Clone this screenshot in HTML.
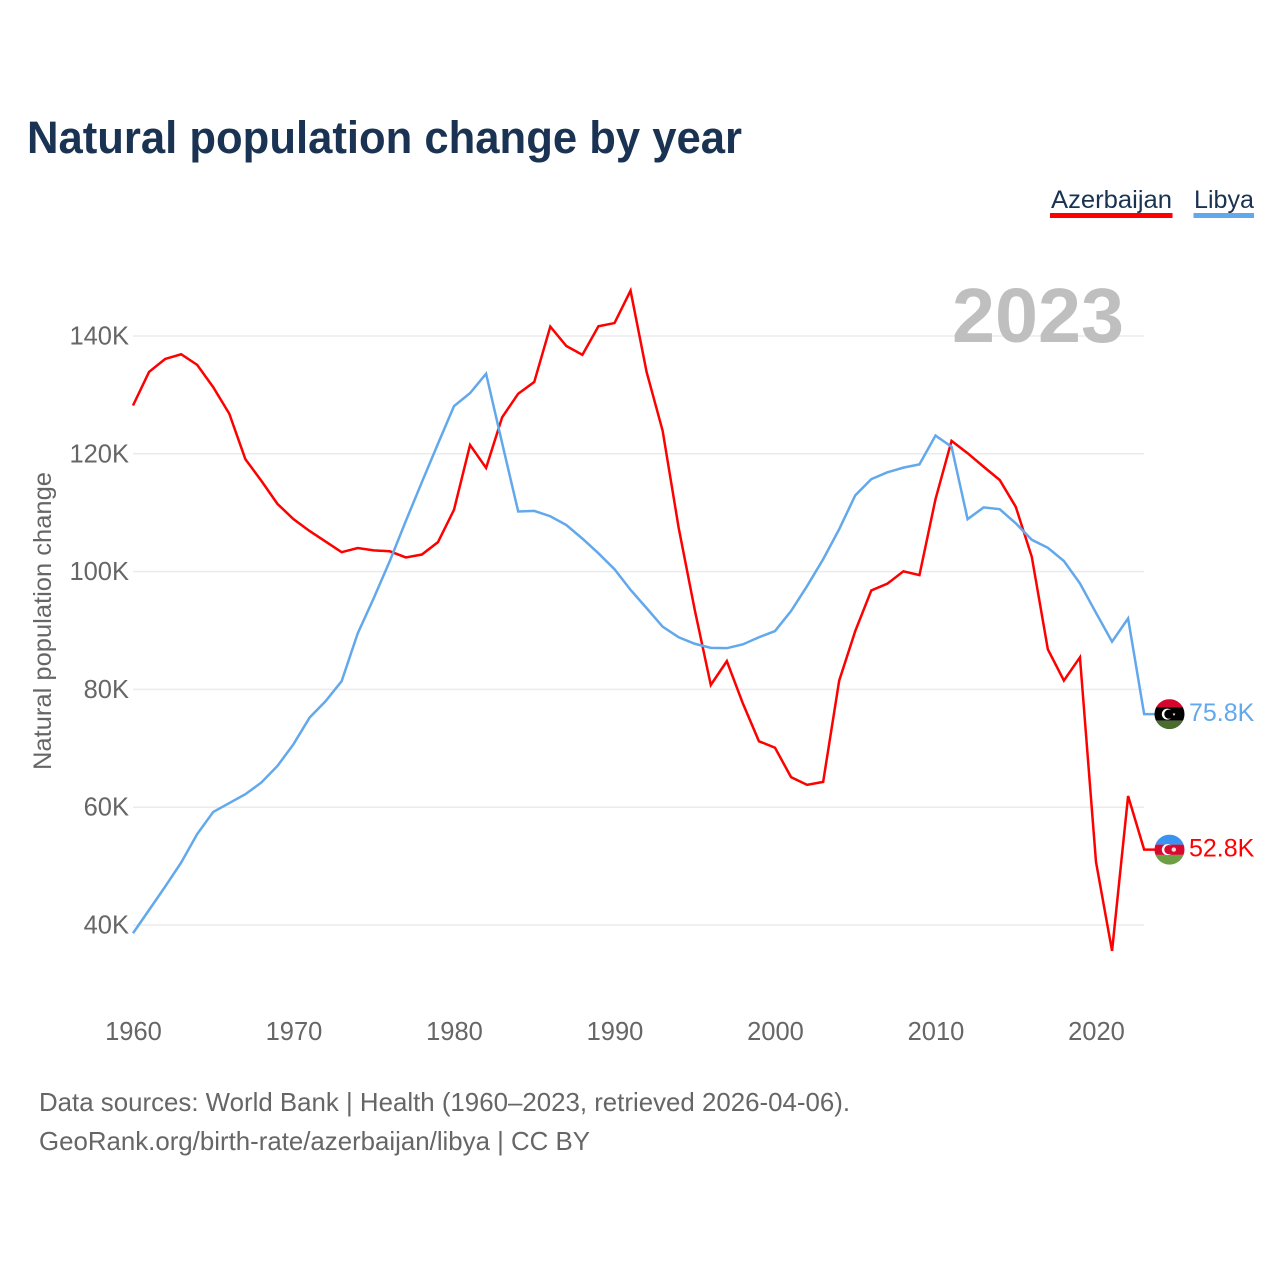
<!DOCTYPE html>
<html lang="en">
<head>
<meta charset="utf-8">
<title>Natural population change by year</title>
<style>
  html, body { margin: 0; padding: 0; background: #ffffff; }
  svg { display: block; }
  text { font-family: "Liberation Sans", sans-serif; }
</style>
</head>
<body>
<svg id="chart" xmlns="http://www.w3.org/2000/svg" width="1280" height="1280" viewBox="0 0 1280 1280">
  <defs>
    <clipPath id="flag-clip"><circle cx="0" cy="0" r="15"></circle></clipPath>
  </defs>
  <rect x="0" y="0" width="1280" height="1280" fill="#ffffff"></rect>
  <text x="27" y="153" font-size="45" font-weight="700" fill="#1a3353" textLength="715" lengthAdjust="spacingAndGlyphs">Natural population change by year</text>

  <g>
    <g>
      <text x="1051" y="208" font-size="25" fill="#1a3353" textLength="121" lengthAdjust="spacingAndGlyphs">Azerbaijan</text>
      <rect x="1050" y="213" width="122.5" height="5" fill="#ff0000"></rect>
    </g>
    <g>
      <text x="1194" y="208" font-size="25" fill="#1a3353" textLength="60" lengthAdjust="spacingAndGlyphs">Libya</text>
      <rect x="1193.5" y="213" width="60.5" height="5" fill="#62a8ec"></rect>
    </g>
  </g>

  <g id="grid"></g>
  <text x="952" y="342" font-size="77" font-weight="700" fill="#bfbfbf" textLength="172" lengthAdjust="spacingAndGlyphs">2023</text>
  <g id="y-ticks"></g>
  <g id="x-ticks"></g>
  <text transform="translate(51,770) rotate(-90)" font-size="25" fill="#666666" textLength="298" lengthAdjust="spacingAndGlyphs">Natural population change</text>

  <path id="line-azerbaijan" fill="none" stroke="#ff0000" stroke-width="2.5" stroke-linejoin="miter"></path>
  <path id="line-libya" fill="none" stroke="#62a8ec" stroke-width="2.5" stroke-linejoin="miter"></path>

  <g id="flag-libya">
    <g clip-path="url(#flag-clip)">
      <rect x="-15" y="-15" width="30" height="8" fill="#d5062e"></rect>
      <rect x="-15" y="-7" width="30" height="13.5" fill="#000000"></rect>
      <rect x="-15" y="6.5" width="30" height="8.5" fill="#4a6c2c"></rect>
    </g>
    <circle cx="-2.2" cy="0" r="5.5" fill="#ffffff"></circle>
    <circle cx="-0.6" cy="0" r="4.6" fill="#000000"></circle>
    <polygon points="4.5,0 3.5,0.7 3.9,-0.5 2.9,-1.2 4.1,-1.2 4.5,-2.3 4.9,-1.2 6.1,-1.2 5.1,-0.5 5.5,0.7" fill="#ffffff" transform="translate(0,0.8)"></polygon>
  </g>
  <g id="flag-azerbaijan">
    <g clip-path="url(#flag-clip)">
      <rect x="-15" y="-15" width="30" height="10" fill="#3a93f0"></rect>
      <rect x="-15" y="-5" width="30" height="10.3" fill="#d8092f"></rect>
      <rect x="-15" y="5.3" width="30" height="10" fill="#6c9f42"></rect>
    </g>
    <circle cx="-2.2" cy="0" r="5.5" fill="#ffffff"></circle>
    <circle cx="-0.6" cy="0" r="4.6" fill="#d8092f"></circle>
    <circle cx="4.3" cy="0" r="2.2" fill="#f6d9dd"></circle>
  </g>
  <text id="value-libya" x="1189" font-size="25" fill="#62a8ec"></text>
  <text id="value-azerbaijan" x="1189" font-size="25" fill="#ff0000"></text>

  <text x="39" y="1111" font-size="26" fill="#666666" textLength="811" lengthAdjust="spacingAndGlyphs">Data sources: World Bank | Health (1960–2023, retrieved 2026-04-06).</text>
  <text x="39" y="1150" font-size="26" fill="#666666" textLength="551" lengthAdjust="spacingAndGlyphs">GeoRank.org/birth-rate/azerbaijan/libya | CC BY</text>
</svg>
<script>
const startYear = 1960;
const xTickYears = [1960, 1970, 1980, 1990, 2000, 2010, 2020];
const yTickValues = [40, 60, 80, 100, 120, 140];
const azerbaijanValues = [
  128.2, 133.9, 136.1, 136.9, 135.1, 131.3, 126.8, 119.1, 115.4, 111.5,
  108.9, 106.9, 105.1, 103.3, 104.0, 103.6, 103.45, 102.4, 102.9, 105.0,
  110.5, 121.5, 117.6, 126.2, 130.2, 132.2, 141.6, 138.3, 136.8, 141.65,
  142.2, 147.7, 133.9, 123.9, 107.4, 93.5, 80.75, 84.8, 77.6, 71.2,
  70.1, 65.1, 63.8, 64.3, 81.5, 89.9, 96.8, 97.95, 100.05, 99.4,
  112.3, 122.2, 120.1, 117.8, 115.55, 111.0, 102.5, 86.8, 81.5, 85.45,
  50.7, 35.6, 61.9, 52.8
];
const libyaValues = [
  38.6, 42.55, 46.5, 50.6, 55.45, 59.2, 60.7, 62.2, 64.2, 67.0,
  70.7, 75.2, 78.0, 81.4, 89.5, 95.5, 101.8, 108.6, 115.2, 121.7,
  128.1, 130.3, 133.6, 121.8, 110.2, 110.3, 109.4, 107.9, 105.6, 103.1,
  100.4, 96.9, 93.8, 90.65, 88.85, 87.75, 87.05, 87.0, 87.65, 88.85,
  89.9, 93.3, 97.55, 102.1, 107.2, 112.95, 115.7, 116.85, 117.65, 118.2,
  123.1, 121.2, 108.9, 110.9, 110.6, 108.2, 105.4, 104.05, 101.8, 98.0,
  93.0, 88.1, 92.05, 75.8
];

const SVG_NS = 'http://www.w3.org/2000/svg';
const plotLeft = 133, plotRight = 1144, connectorEnd = 1156;
function xScale(year) { return plotLeft + (year - startYear) * 16.05; }
function yScale(value) { return 336 + (140 - value) * 5.89; }
function linePath(values) {
  const d = values.map(function (v, i) {
    return (i ? 'L' : 'M') + xScale(startYear + i).toFixed(2) + ' ' + yScale(v).toFixed(2);
  }).join(' ');
  return d + ' L' + connectorEnd + ' ' + yScale(values[values.length - 1]).toFixed(2);
}

const grid = document.getElementById('grid');
const yTicks = document.getElementById('y-ticks');
yTickValues.forEach(function (v) {
  const line = document.createElementNS(SVG_NS, 'line');
  
  
  line.setAttribute('x1', plotLeft);
  line.setAttribute('x2', plotRight);
  line.setAttribute('y1', yScale(v));
  line.setAttribute('y2', yScale(v));
  line.setAttribute('stroke', '#ebebeb');
  line.setAttribute('stroke-width', '1.5');
  grid.appendChild(line);
  const label = document.createElementNS(SVG_NS, 'text');
  
  
  label.setAttribute('x', 129);
  label.setAttribute('y', yScale(v) + 8.5);
  label.setAttribute('text-anchor', 'end');
  label.setAttribute('font-size', '25.5');
  label.setAttribute('fill', '#666666');
  label.textContent = v + 'K';
  yTicks.appendChild(label);
});

const xTicks = document.getElementById('x-ticks');
xTickYears.forEach(function (year) {
  const label = document.createElementNS(SVG_NS, 'text');
  
  
  label.setAttribute('x', xScale(year) + 0.5);
  label.setAttribute('y', 1040);
  label.setAttribute('text-anchor', 'middle');
  label.setAttribute('font-size', '25.5');
  label.setAttribute('fill', '#666666');
  label.textContent = year;
  xTicks.appendChild(label);
});

document.getElementById('line-azerbaijan').setAttribute('d', linePath(azerbaijanValues));
document.getElementById('line-libya').setAttribute('d', linePath(libyaValues));

function placeEnd(name, values) {
  const last = values[values.length - 1];
  const y = yScale(last);
  document.getElementById('flag-' + name).setAttribute('transform', 'translate(1169.5,' + y.toFixed(2) + ')');
  const label = document.getElementById('value-' + name);
  label.setAttribute('y', (y + 7).toFixed(2));
  label.textContent = last.toFixed(1) + 'K';
}
placeEnd('libya', libyaValues);
placeEnd('azerbaijan', azerbaijanValues);
</script>
</body>
</html>
